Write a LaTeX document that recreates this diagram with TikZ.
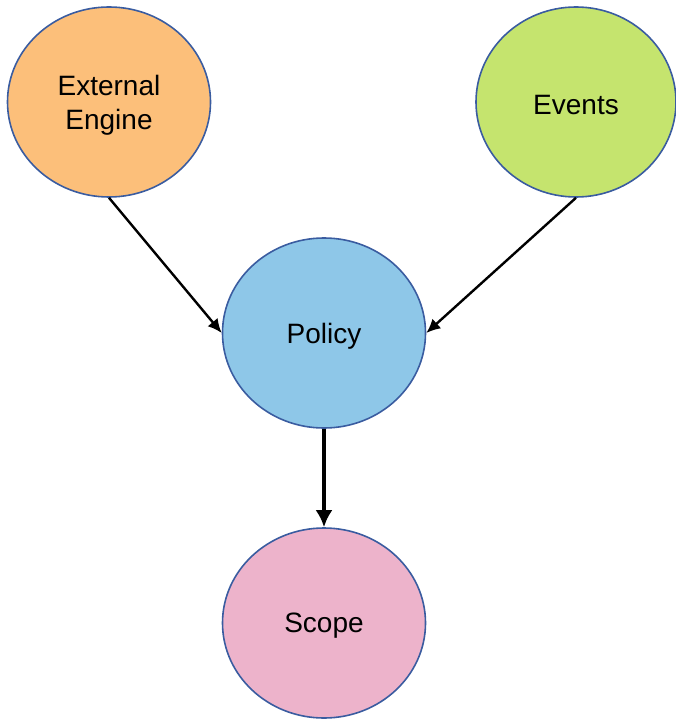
\documentclass[tikz,border=0pt]{standalone}
\usepackage{fontspec}
\setmainfont{Liberation Sans}
\usetikzlibrary{shapes.geometric,arrows.meta}
\definecolor{orangefill}{RGB}{252,191,122}
\definecolor{greenfill}{RGB}{197,228,110}
\definecolor{bluefill}{RGB}{142,199,232}
\definecolor{pinkfill}{RGB}{237,179,203}
\definecolor{rim}{RGB}{58,92,160}
\begin{document}
\begin{tikzpicture}[x=1pt,y=-1pt,
  bubble/.style={ellipse, draw=rim, line width=1.6pt, inner sep=0pt,
    minimum width=203pt, minimum height=190pt},
  bubbletext/.style={align=center, inner sep=0pt, yshift=-3pt,
    font=\fontsize{28}{34}\selectfont},
  thinarrow/.style={line width=2.4pt, -{Latex[length=14pt,width=13pt]}},
  thickarrow/.style={line width=4pt, -{Latex[length=17pt,width=17pt]}}]
\useasboundingbox (0,0) rectangle (675,719);
\node[bubble, fill=orangefill] (ee) at (109,102) {};
\node[bubble, fill=greenfill, minimum width=200pt] (ev) at (576,102) {};
\node[bubble, fill=bluefill] (pol) at (324,333) {};
\node[bubble, fill=pinkfill] (sc) at (324,623) {};
\node[bubbletext] (eet) at (ee.center) {External\\Engine};
\node[bubbletext] (evt) at (ev.center) {Events};
\node[bubbletext] (polt) at (pol.center) {Policy};
\node[bubbletext] (sct) at (sc.center) {Scope};
\draw[thinarrow] (ee.south) -- (pol.west);
\draw[thinarrow] (ev.south) -- (pol.east);
\draw[thickarrow] (pol.south) -- (sc.north);
\end{tikzpicture}
\end{document}
